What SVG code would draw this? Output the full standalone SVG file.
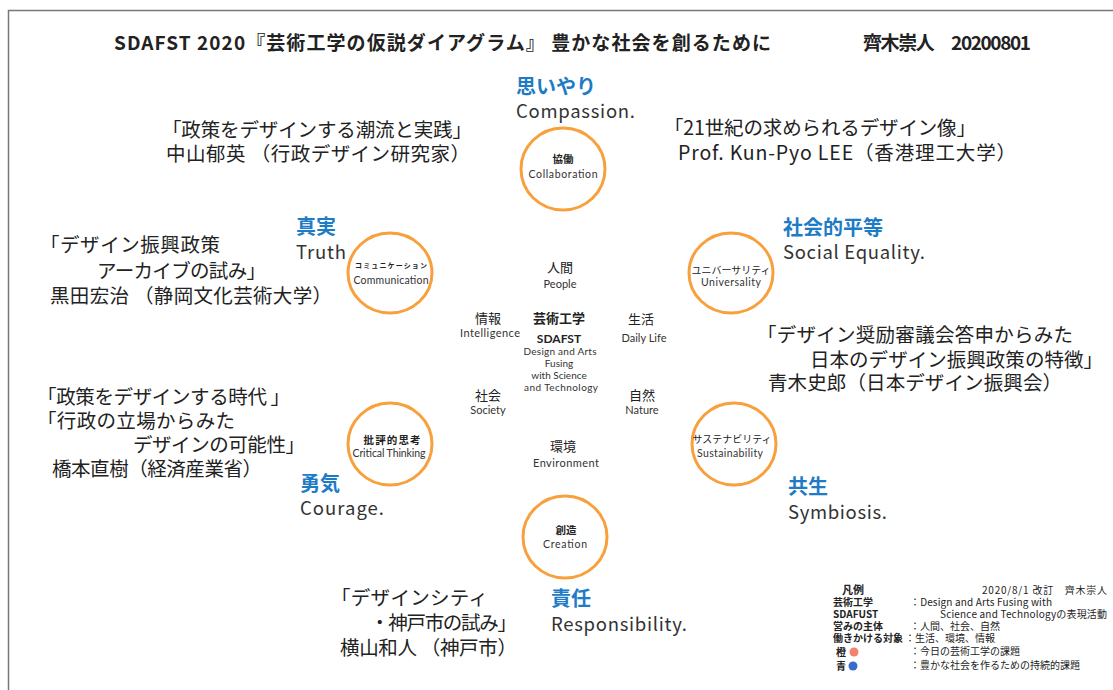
<svg xmlns="http://www.w3.org/2000/svg" width="1113" height="690" viewBox="0 0 1113 690">
<style>
text{font-family:"Noto Sans CJK JP","Noto Sans",sans-serif;fill:#222}
.ttl{font-size:19px;font-weight:700}
.ring{fill:#fff;stroke:#F7A03C;stroke-width:3}
.cj{font-size:10.5px;font-weight:700;text-anchor:middle}
.ce{font-family:Lato,"Noto Sans",sans-serif;font-size:10.5px;text-anchor:middle;fill:#333}
.hd{font-size:20px;font-weight:700;fill:#1E7BC6}
.en{font-size:18.5px;fill:#333}
.q{font-size:19.5px}
.mj{font-size:13px;text-anchor:middle}
.me{font-family:Lato,"Noto Sans",sans-serif;font-size:11px;text-anchor:middle;fill:#333}
.lg{font-size:10px}
.lb{font-size:10px;font-weight:700}
</style>
<rect x="0" y="0" width="1113" height="690" fill="#fff"/>
<path d="M8.5 690 V10.5 H1113" fill="none" stroke="#777" stroke-width="1.5"/>

<g id="title">
<text class="ttl" x="114" y="50" textLength="657" lengthAdjust="spacing">SDAFST 2020『芸術工学の仮説ダイアグラム』 豊かな社会を創るために</text>
<text class="ttl" x="863" y="50" textLength="168" lengthAdjust="spacing">齊木崇人　20200801</text>
</g>

<g id="node-collaboration">
<ellipse class="ring" cx="563" cy="169" rx="42" ry="41"/>
<text class="cj" x="563" y="163">協働</text>
<text class="ce" x="563" y="178" textLength="69" lengthAdjust="spacing">Collaboration</text>
</g>
<g id="node-communication">
<ellipse class="ring" cx="390" cy="273" rx="42" ry="40"/>
<text class="cj" x="391" y="268" style="font-size:7px" textLength="72" lengthAdjust="spacing">コミュニケーション</text>
<text class="ce" x="391" y="284" textLength="75" lengthAdjust="spacing">Communication</text>
</g>
<g id="node-universality">
<ellipse class="ring" cx="731" cy="273" rx="42" ry="40"/>
<text class="cj" x="731" y="274" style="font-size:10px;font-weight:400" textLength="79" lengthAdjust="spacing">ユニバーサリティ</text>
<text class="ce" x="731" y="286" textLength="60" lengthAdjust="spacing">Universality</text>
</g>
<g id="node-critical">
<ellipse class="ring" cx="390" cy="444" rx="42" ry="41"/>
<text class="cj" x="392" y="444" textLength="57" lengthAdjust="spacing">批評的思考</text>
<text class="ce" x="389" y="457" textLength="73" lengthAdjust="spacing">Critical Thinking</text>
</g>
<g id="node-sustainability">
<ellipse class="ring" cx="734" cy="444" rx="42" ry="41"/>
<text class="cj" x="732" y="443" style="font-size:10px;font-weight:400" textLength="79" lengthAdjust="spacing">サステナビリティ</text>
<text class="ce" x="730" y="457" textLength="66" lengthAdjust="spacing">Sustainability</text>
</g>
<g id="node-creation">
<ellipse class="ring" cx="565" cy="537" rx="42" ry="41"/>
<text class="cj" x="566" y="534">創造</text>
<text class="ce" x="565" y="548" textLength="44" lengthAdjust="spacing">Creation</text>
</g>

<g id="values">
<text class="hd" x="516" y="94">思いやり</text>
<text class="en" x="516" y="118" textLength="119" lengthAdjust="spacing">Compassion.</text>
<text class="hd" x="783" y="235">社会的平等</text>
<text class="en" x="783" y="259" textLength="142" lengthAdjust="spacing">Social Equality.</text>
<text class="hd" x="296" y="234">真実</text>
<text class="en" x="296" y="259" textLength="50" lengthAdjust="spacing">Truth</text>
<text class="hd" x="300" y="491">勇気</text>
<text class="en" x="300" y="515" textLength="84" lengthAdjust="spacing">Courage.</text>
<text class="hd" x="788" y="494">共生</text>
<text class="en" x="788" y="519" textLength="99" lengthAdjust="spacing">Symbiosis.</text>
<text class="hd" x="551" y="606">責任</text>
<text class="en" x="551" y="631" textLength="136" lengthAdjust="spacing">Responsibility.</text>
</g>

<g id="refs">
<text class="q" x="162" y="137" textLength="310" lengthAdjust="spacing">「政策をデザインする潮流と実践」</text>
<text class="q" x="166" y="161" textLength="304" lengthAdjust="spacing">中山郁英 （行政デザイン研究家）</text>
<text class="q" x="664" y="135" textLength="312" lengthAdjust="spacing">「21世紀の求められるデザイン像」</text>
<text class="q" x="678" y="160" textLength="338" lengthAdjust="spacing">Prof. Kun-Pyo LEE（香港理工大学）</text>
<text class="q" x="40" y="252" textLength="180" lengthAdjust="spacing">「デザイン振興政策</text>
<text class="q" x="97" y="278" textLength="169" lengthAdjust="spacing">アーカイブの試み」</text>
<text class="q" x="50" y="303" textLength="282" lengthAdjust="spacing">黒田宏治 （静岡文化芸術大学）</text>
<text class="q" x="757" y="342" textLength="316" lengthAdjust="spacing">「デザイン奨励審議会答申からみた</text>
<text class="q" x="810" y="367" textLength="293" lengthAdjust="spacing">日本のデザイン振興政策の特徴」</text>
<text class="q" x="768" y="390" textLength="294" lengthAdjust="spacing">青木史郎（日本デザイン振興会）</text>
<text class="q" x="37" y="404" textLength="253" lengthAdjust="spacing">「政策をデザインする時代 」</text>
<text class="q" x="37" y="428" textLength="198" lengthAdjust="spacing">「行政の立場からみた</text>
<text class="q" x="133" y="452" textLength="172" lengthAdjust="spacing">デザインの可能性」</text>
<text class="q" x="52" y="476" textLength="210" lengthAdjust="spacing">橋本直樹（経済産業省）</text>
<text class="q" x="331" y="605" textLength="157" lengthAdjust="spacing">「デザインシティ</text>
<text class="q" x="370" y="630" textLength="147" lengthAdjust="spacing">・神戸市の試み」</text>
<text class="q" x="340" y="655" textLength="177" lengthAdjust="spacing">横山和人 （神戸市）</text>
</g>

<g id="center">
<text class="mj" x="560" y="272">人間</text>
<text class="me" x="560" y="288">People</text>
<text class="mj" x="488" y="323">情報</text>
<text class="me" x="490" y="337" textLength="60" lengthAdjust="spacing">Intelligence</text>
<text class="mj" x="559" y="323" style="font-weight:700">芸術工学</text>
<text class="me" x="559" y="343" style="font-size:12px;font-weight:700;fill:#222">SDAFST</text>
<text class="me" x="560" y="355" style="font-size:10px" textLength="73" lengthAdjust="spacing">Design and Arts</text>
<text class="me" x="559" y="367" style="font-size:10px">Fusing</text>
<text class="me" x="559" y="379" style="font-size:10px">with Science</text>
<text class="me" x="561" y="391" style="font-size:10px" textLength="74" lengthAdjust="spacing">and Technology</text>
<text class="mj" x="641" y="324">生活</text>
<text class="me" x="644" y="342">Daily Life</text>
<text class="mj" x="488" y="400">社会</text>
<text class="me" x="488" y="414">Society</text>
<text class="mj" x="642" y="400">自然</text>
<text class="me" x="642" y="414">Nature</text>
<text class="mj" x="563" y="451">環境</text>
<text class="me" x="566" y="467" textLength="66" lengthAdjust="spacing">Environment</text>
</g>

<g id="legend">
<text class="lb" x="842" y="594" style="font-size:11px">凡例</text>
<text class="lg" x="982" y="594" textLength="125" lengthAdjust="spacing">2020/8/1 改訂　齊木崇人</text>
<text class="lb" x="833" y="606">芸術工学</text>
<text class="lg" x="910" y="606" textLength="142" lengthAdjust="spacing">：Design and Arts Fusing  with</text>
<text class="lb" x="833" y="618">SDAFUST</text>
<text class="lg" x="940" y="618" textLength="167" lengthAdjust="spacing">Science and Technologyの表現活動</text>
<text class="lb" x="833" y="630">営みの主体</text>
<text class="lg" x="910" y="630">：人間、社会、自然</text>
<text class="lb" x="833" y="642">働きかける対象</text>
<text class="lg" x="905" y="642">：生活、環境、情報</text>
<text class="lb" x="836" y="656">橙</text>
<circle cx="854" cy="652" r="4.5" fill="#F4826C"/>
<text class="lg" x="910" y="655">：今日の芸術工学の課題</text>
<text class="lb" x="836" y="670">青</text>
<circle cx="853" cy="666" r="4.5" fill="#3B6BC8"/>
<text class="lg" x="910" y="669">：豊かな社会を作るための持続的課題</text>
</g>
</svg>
